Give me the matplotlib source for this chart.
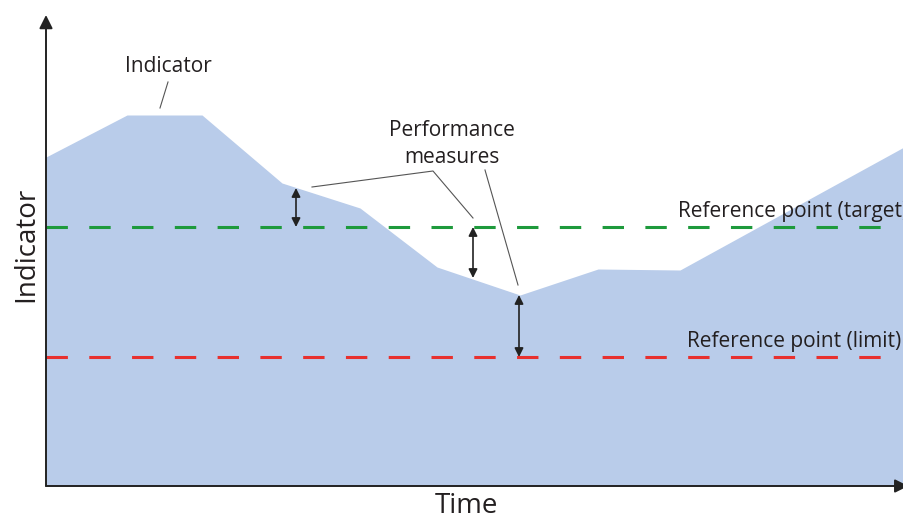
import matplotlib.pyplot as plt

plt.rcParams['font.family'] = ['Open Sans', 'DejaVu Sans']

# indicator trajectory (time, value)
time = [0, 81, 156, 236, 314, 391, 474, 552, 634, 858]
indicator = [329, 371, 371, 303, 278, 219, 191, 217, 216, 339]

target = 259
limit = 129

# performance measure arrows: (time, value from, value to)
measures_t = [250, 427, 473]
measures_lo = [target, 208, limit]
measures_hi = [298, target, 191]

fig = plt.figure(figsize=(9.04, 5.17), dpi=100)
ax = fig.add_axes([46 / 904, 31 / 517, 858 / 904, 471 / 517])
ax.set_xlim(0, 858)
ax.set_ylim(0, 471)
ax.axis('off')

ax.fill_between(time, indicator, 0, color='#b9ccea', lw=0)

ax.plot([0, 842], [target, target], color='#1e9a3c', lw=2.2, ls=(0, (7, 7)))
ax.plot([0, 842], [limit, limit], color='#e8302e', lw=2.2, ls=(0, (7, 7)))

for t, lo, hi in zip(measures_t, measures_lo, measures_hi):
    ax.annotate('', xy=(t, hi), xytext=(t, lo),
                arrowprops=dict(arrowstyle='<|-|>', color='#222222', lw=1.2,
                                mutation_scale=13, shrinkA=0, shrinkB=0))

# axes with arrow heads
ax.annotate('', xy=(0, 1.0), xytext=(0, 0), xycoords='axes fraction',
            arrowprops=dict(arrowstyle='-|>', color='#222222', lw=1.4,
                            mutation_scale=20, shrinkA=0, shrinkB=0),
            annotation_clip=False)
ax.annotate('', xy=(1.005, 0), xytext=(0, 0), xycoords='axes fraction',
            arrowprops=dict(arrowstyle='-|>', color='#222222', lw=1.4,
                            mutation_scale=20, shrinkA=0, shrinkB=0),
            annotation_clip=False)

tc = '#231f20'
ax.text(122, 419, 'Indicator', ha='center', va='center', fontsize=15, color=tc)
ax.plot([122, 114], [404, 378], color='#555555', lw=0.8)

ax.text(406, 342, 'Performance\nmeasures', ha='center', va='center',
        fontsize=15, color=tc, linespacing=1.35)
ax.plot([266, 387, 427], [299, 315, 268], color='#555555', lw=0.8)
ax.plot([439, 472], [316, 201], color='#555555', lw=0.8)

ax.text(632, 275, 'Reference point (target)', ha='left', va='center',
        fontsize=15, color=tc, clip_on=False)
ax.text(641, 145, 'Reference point (limit)', ha='left', va='center',
        fontsize=15, color=tc, clip_on=False)

ax.text(-20, 242, 'Indicator', rotation=90, ha='center', va='center',
        fontsize=20, color=tc)
ax.text(420, -20, 'Time', ha='center', va='center', fontsize=20, color=tc)

fig.savefig('out.png', dpi=100)
